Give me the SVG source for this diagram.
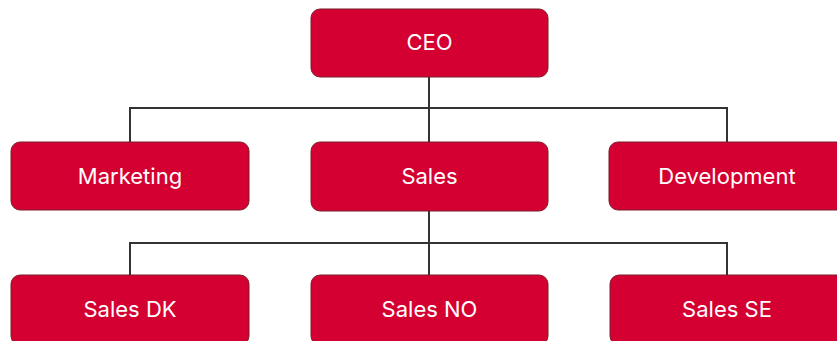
<svg xmlns="http://www.w3.org/2000/svg" width="837" height="341" viewBox="0 0 837 341">
<style>
.box{fill:#D50032;stroke:#7a1f2b;stroke-width:1}
.lbl{fill:#ffffff;font-family:Inter,"Liberation Sans",sans-serif;font-size:22px;font-weight:400;text-anchor:middle}
.conn{fill:none;stroke:#333333;stroke-width:2}
</style>
<rect width="837" height="341" fill="#ffffff"/>
<g id="connectors">
<path class="conn" d="M429 77V142M130 142V108H727V142"/>
<path class="conn" d="M429 211V275M130 275V243H727V275"/>
</g>
<g id="ceo"><rect class="box" x="311" y="9" width="237" height="68" rx="9"/><text class="lbl" x="429.5" y="50">CEO</text></g>
<g id="marketing"><rect class="box" x="11" y="142" width="238" height="68" rx="9"/><text class="lbl" x="130" y="184">Marketing</text></g>
<g id="sales"><rect class="box" x="311" y="142" width="237" height="69" rx="9"/><text class="lbl" x="429.5" y="184">Sales</text></g>
<g id="development"><rect class="box" x="609" y="142" width="238" height="68" rx="9"/><text class="lbl" x="727" y="184">Development</text></g>
<g id="sales-dk"><rect class="box" x="11" y="275" width="238" height="70" rx="9"/><text class="lbl" x="130" y="317">Sales DK</text></g>
<g id="sales-no"><rect class="box" x="311" y="275" width="237" height="70" rx="9"/><text class="lbl" x="429.5" y="317">Sales NO</text></g>
<g id="sales-se"><rect class="box" x="610" y="275" width="238" height="70" rx="9"/><text class="lbl" x="727" y="317">Sales SE</text></g>
</svg>
